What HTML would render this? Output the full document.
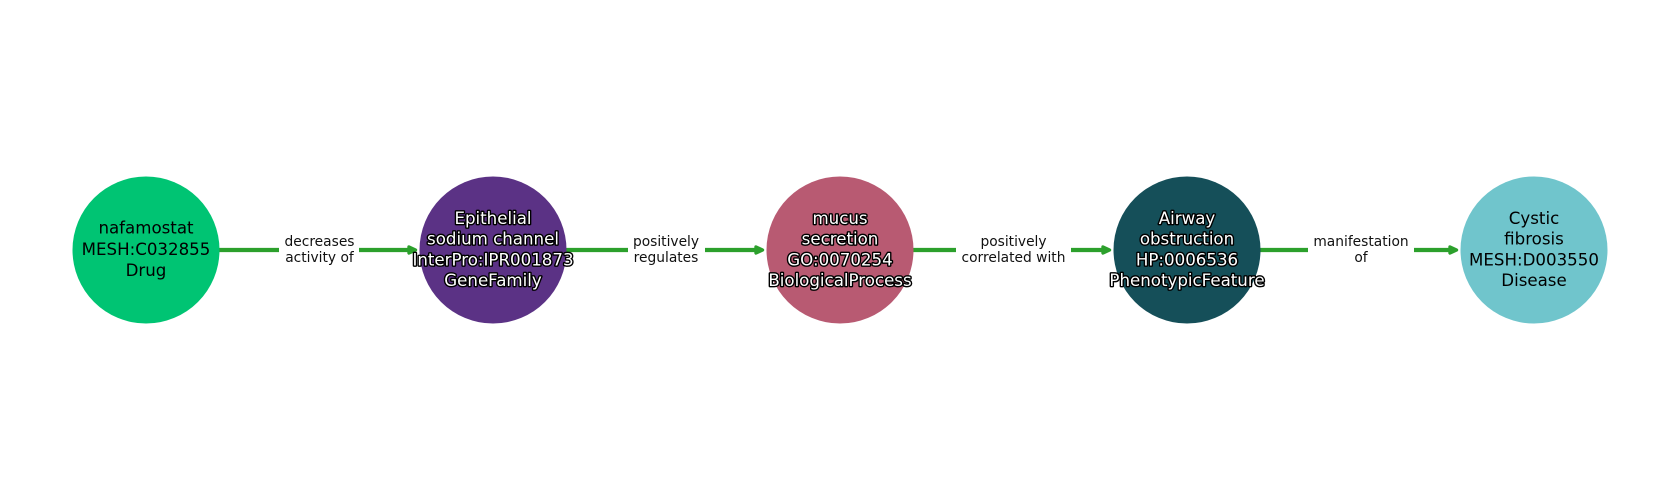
<!DOCTYPE html>
<html>
<head>
<meta charset="utf-8">
<style>
html,body{margin:0;padding:0;background:#fff;width:1680px;height:500px;overflow:hidden}
svg{display:block}
text{font-family:"DejaVu Sans",sans-serif;text-anchor:middle}
.n{font-size:16.65px;fill:#000}
.w{font-size:16.65px;fill:#fff;stroke:#000;stroke-width:2.8px;paint-order:stroke;stroke-linejoin:round}
.e{font-size:13.8px;fill:#111}
</style>
</head>
<body>
<svg width="1680" height="500" viewBox="0 0 1680 500" xmlns="http://www.w3.org/2000/svg">
<rect width="1680" height="500" fill="#fff"/>
<g stroke="#2ca02c" stroke-width="4.2" fill="none">
<line x1="219" y1="250" x2="410" y2="250"/>
<line x1="566" y1="250" x2="757" y2="250"/>
<line x1="913" y1="250" x2="1104" y2="250"/>
<line x1="1260" y1="250" x2="1451" y2="250"/>
</g>
<g fill="#2ca02c" stroke="#2ca02c" stroke-width="3.4" stroke-linejoin="round">
<polygon points="409,247 415.5,250 409,253"/>
<polygon points="756,247 762.5,250 756,253"/>
<polygon points="1103,247 1109.5,250 1103,253"/>
<polygon points="1450,247 1456.5,250 1450,253"/>
</g>
<g fill="#fff">
<rect x="279" y="232" width="80" height="36"/>
<rect x="628" y="232" width="77" height="36"/>
<rect x="956" y="232" width="115" height="36"/>
<rect x="1308" y="232" width="106" height="36"/>
</g>
<circle cx="146" cy="250" r="73.5" fill="#00c473"/>
<circle cx="493" cy="250" r="73.5" fill="#5b3285"/>
<circle cx="840" cy="250" r="73.5" fill="#b85a72"/>
<circle cx="1187" cy="250" r="73.5" fill="#154f59"/>
<circle cx="1534" cy="250" r="73.5" fill="#70c5cc"/>

<text class="e" x="319.5" y="246">decreases</text>
<text class="e" x="319.5" y="262">activity of</text>
<text class="e" x="666" y="246">positively</text>
<text class="e" x="666" y="262">regulates</text>
<text class="e" x="1013.5" y="246">positively</text>
<text class="e" x="1013.5" y="262">correlated with</text>
<text class="e" x="1361" y="246">manifestation</text>
<text class="e" x="1361" y="262">of</text>

<text class="n" x="146" y="233.5">nafamostat</text>
<text class="n" x="146" y="255">MESH:C032855</text>
<text class="n" x="146" y="276">Drug</text>

<text class="w" x="493" y="224">Epithelial</text>
<text class="w" x="493" y="244.5">sodium channel</text>
<text class="w" x="493" y="265.5">InterPro:IPR001873</text>
<text class="w" x="493" y="286">GeneFamily</text>

<text class="w" x="840" y="224">mucus</text>
<text class="w" x="840" y="244.5">secretion</text>
<text class="w" x="840" y="265.5">GO:0070254</text>
<text class="w" x="840" y="286">BiologicalProcess</text>

<text class="w" x="1187" y="224">Airway</text>
<text class="w" x="1187" y="244.5">obstruction</text>
<text class="w" x="1187" y="265.5">HP:0006536</text>
<text class="w" x="1187" y="286">PhenotypicFeature</text>

<text class="n" x="1534" y="224">Cystic</text>
<text class="n" x="1534" y="244.5">fibrosis</text>
<text class="n" x="1534" y="265.5">MESH:D003550</text>
<text class="n" x="1534" y="286">Disease</text>
</svg>
</body>
</html>
